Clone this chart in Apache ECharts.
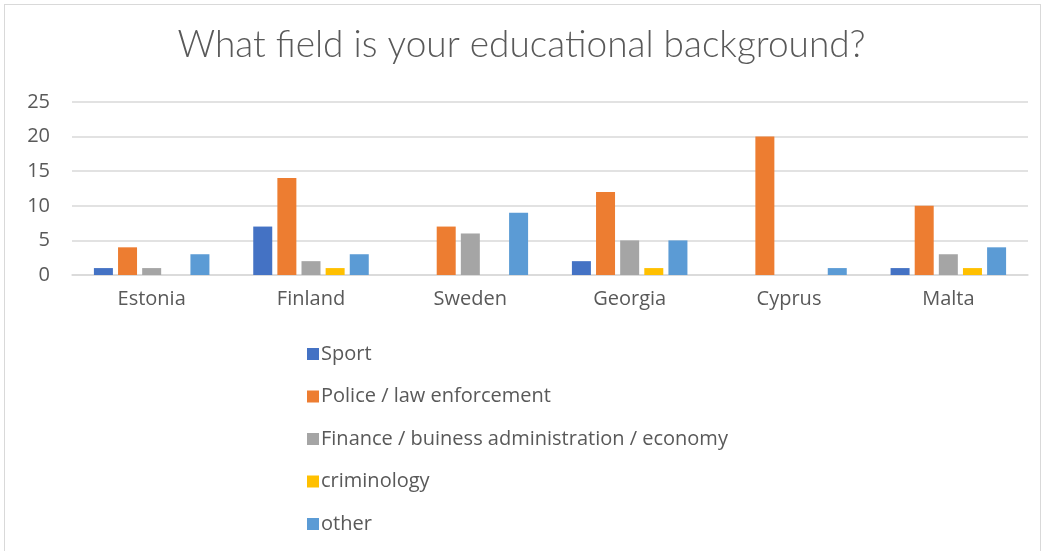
<!DOCTYPE html>
<html>
<head>
<meta charset="utf-8">
<script src="https://cdn.jsdelivr.net/npm/echarts@6/dist/echarts.min.js"></script>
<style>
  html, body { margin: 0; padding: 0; background: #fff; }
  #frame { position: absolute; left: 4px; top: 4px; width: 1037px; height: 560px; border: 1px solid #d9d9d9; box-sizing: border-box; }
  #chart { position: absolute; left: 0; top: 0; width: 1043px; height: 551px; }
</style>
</head>
<body>
<div id="frame"></div>
<div id="chart"></div>
<script>
// Survey responses by country and field of study
const countries = ['Estonia', 'Finland', 'Sweden', 'Georgia', 'Cyprus', 'Malta'];
const sport       = [1, 7, 0, 2, 0, 1];
const police      = [4, 14, 7, 12, 20, 10];
const finance     = [1, 2, 6, 5, 0, 3];
const criminology = [0, 1, 0, 1, 0, 1];
const other       = [3, 3, 9, 5, 1, 4];
const seriesNames = [
  'Sport',
  'Police / law enforcement',
  'Finance / buiness administration / economy',
  'criminology',
  'other'
];
const yTicks = [0, 5, 10, 15, 20, 25];

const palette = ['#4472C4', '#ED7D31', '#A5A5A5', '#FFC000', '#5B9BD5'];
const titleFont = 'Lato, "Open Sans", sans-serif';
const font = '"Open Sans", Lato, sans-serif';
const textColor = '#595959';

const chart = echarts.init(document.getElementById('chart'));
const values = [sport, police, finance, criminology, other];

chart.setOption({
  animation: false,
  color: palette,
  title: {
    text: 'What field is your educational background?',
    left: 'center',
    top: 22,
    textStyle: { fontFamily: titleFont, fontSize: 37, fontWeight: 300, color: textColor }
  },
  legend: {
    orient: 'vertical',
    left: 302,
    top: 339,
    itemWidth: 12,
    itemHeight: 12,
    itemGap: 22.5,
    icon: 'rect',
    data: seriesNames,
    textStyle: { fontFamily: font, fontSize: 20, color: textColor, padding: [0, 0, 0, -3] }
  },
  grid: { left: 72, right: 15, top: 102, height: 173, containLabel: false },
  xAxis: {
    type: 'category',
    data: countries,
    axisLine: { show: true, lineStyle: { color: '#d9d9d9', width: 1.5 } },
    axisTick: { show: false },
    axisLabel: { fontFamily: font, fontSize: 20, color: textColor, margin: 14 }
  },
  yAxis: {
    type: 'value',
    min: yTicks[0],
    max: yTicks[yTicks.length - 1],
    interval: 5,
    axisLine: { show: false },
    axisTick: { show: false },
    splitLine: { lineStyle: { color: '#d9d9d9', width: 1.5 } },
    axisLabel: { fontFamily: font, fontSize: 20, color: textColor, margin: 22 }
  },
  series: seriesNames.map((name, i) => ({
    name: name,
    type: 'bar',
    data: values[i],
    barWidth: 19,
    barGap: '27%',
    itemStyle: { color: palette[i] }
  }))
});
</script>
</body>
</html>
